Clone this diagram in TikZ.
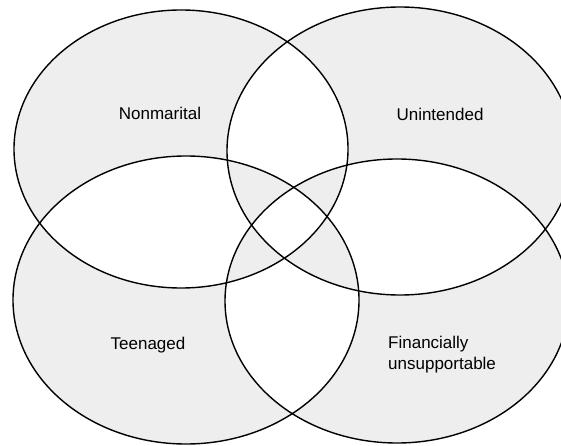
\documentclass[tikz,border=0pt]{standalone}
\usepackage{fontspec}
\setmainfont{Liberation Sans}
\definecolor{venngray}{HTML}{EEEEEE}

\begin{document}
\begin{tikzpicture}[x=1pt,y=-1pt,
    label/.style={font=\fontsize{17}{21}\selectfont,inner sep=0pt}]
            \useasboundingbox (0,0) rectangle (561,446);
            % shade the parts that lie in an odd number of sets
            \fill [venngray,even odd rule]
                (181,149) ellipse [x radius=167,y radius=139]
                (400,151) ellipse [x radius=173,y radius=144]
                (186,300) ellipse [x radius=173,y radius=144]
                (397,301) ellipse [x radius=172,y radius=142];
            \draw [line width=1.4pt] (181,149) ellipse [x radius=167,y radius=139];
            \draw [line width=1.4pt] (400,151) ellipse [x radius=173,y radius=144];
            \draw [line width=1.4pt] (186,300) ellipse [x radius=173,y radius=144];
            \draw [line width=1.4pt] (397,301) ellipse [x radius=172,y radius=142];
            \node [label] (nonmarital) at (160,113) {Nonmarital};
            \node [label] (unintended) at (440,114) {Unintended};
            \node [label] (teenaged) at (148,345) {Teenaged};
            \node [label,anchor=west,align=left] (financially) at (388,355) {Financially\\unsupportable};
        \end{tikzpicture}
\end{document}
